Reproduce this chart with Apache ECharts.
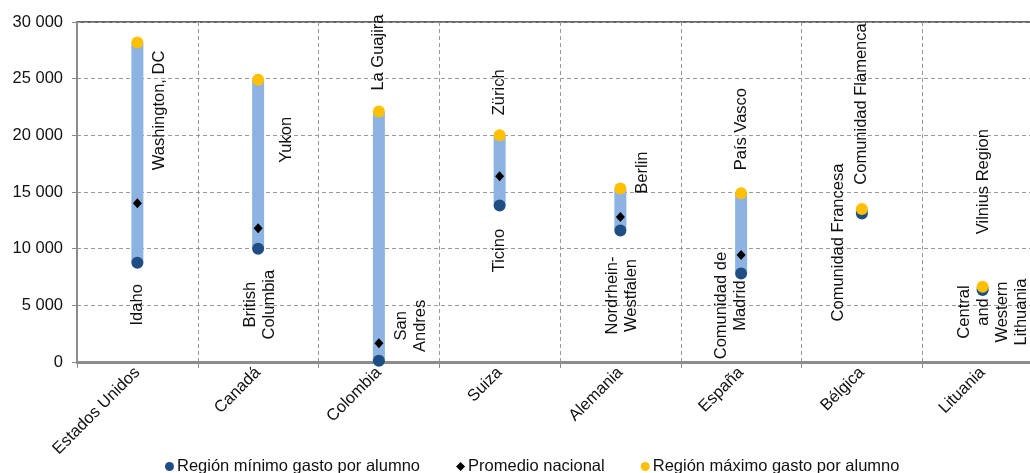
<!DOCTYPE html>
<html>
<head>
<meta charset="utf-8">
<script src="https://cdn.jsdelivr.net/npm/echarts@6/dist/echarts.min.js"></script>
<style>
  html, body { margin: 0; padding: 0; background: #fff; overflow: hidden; }
  #chart { width: 1046px; height: 473px; }
</style>
</head>
<body>
<div id="chart"></div>
<script>
// Gasto por alumno: región mínima, promedio nacional y región máxima por país
const categories = ['Estados Unidos', 'Canadá', 'Colombia', 'Suiza', 'Alemania', 'España', 'Bélgica', 'Lituania'];
const minValues = [8750, 10000, 100, 13800, 11600, 7800, 13100, 6350];
const avgValues = [14000, 11800, 1650, 16400, 12800, 9450, null, null];
const maxValues = [28200, 24900, 22100, 20000, 15300, 14900, 13500, 6650];
const minRegions = ['Idaho', 'British\nColumbia', 'San\nAndres', 'Ticino', 'Nordrhein-\nWestfalen', 'Comunidad de\nMadrid', 'Comunidad Francesa', 'Central\nand\nWestern\nLithuania'];
const maxRegions = ['Washington, DC', 'Yukon', 'La Guajira', 'Zürich', 'Berlin', 'País Vasco', 'Comunidad Flamenca', 'Vilnius Region'];
const yTicks = [0, 5000, 10000, 15000, 20000, 25000, 30000];

// Where each region name sits, in pixels from its dot (centre of the rotated text)
const maxLabelShift = [[22, 68], [28, 60], [0, -59], [0, -43], [22, -16], [0, -64], [0, -105], [1, -105]];
const minLabelShift = [[0, 42], [2, 56], [32, -35], [0, 45], [2, 65], [-10, 32], [-23, 29], [10, 22]];

const FONT = "'Liberation Sans', Arial, sans-serif";
const DOT = 12;

function fmt(v) {
  return String(v).replace(/\B(?=(\d{3})+(?!\d))/g, ' ');
}

function labelled(values, names, shifts) {
  return values.map((v, i) => ({
    value: v,
    label: {
      show: true,
      formatter: names[i],
      position: [shifts[i][0] + DOT / 2, shifts[i][1] + DOT / 2],
      rotate: 90,
      align: 'center',
      verticalAlign: 'middle',
      color: '#111',
      fontFamily: FONT,
      fontSize: 16.5,
      lineHeight: 19
    }
  }));
}

const chart = echarts.init(document.getElementById('chart'), null, { renderer: 'canvas' });

chart.setOption({
  animation: false,
  textStyle: { fontFamily: FONT },
  grid: {
    left: 77, top: 22, width: 966, height: 340,
    show: true, borderColor: '#333', borderWidth: 1.5, backgroundColor: 'transparent'
  },
  legend: {
    data: [
      { name: 'Región mínimo gasto por alumno', icon: 'circle' },
      { name: 'Promedio nacional', icon: 'diamond' },
      { name: 'Región máximo gasto por alumno', icon: 'circle' }
    ],
    left: 160, top: 453,
    itemWidth: 9, itemHeight: 9, itemGap: 36,
    textStyle: { fontFamily: FONT, fontSize: 16.5, color: '#111', padding: [0, 0, 0, -2] }
  },
  xAxis: {
    type: 'category',
    data: categories,
    axisLine: { lineStyle: { color: '#8c8c8c', width: 3 } },
    axisTick: { show: true, length: 6, lineStyle: { color: '#8c8c8c', width: 1 } },
    splitLine: { show: true, lineStyle: { color: '#9a9a9a', type: [4, 3], width: 1 } },
    axisLabel: { rotate: 45, margin: 8, fontSize: 16.5, color: '#111', fontFamily: FONT }
  },
  yAxis: {
    type: 'value',
    min: 0, max: 30000, interval: 5000,
    axisLine: { show: true, lineStyle: { color: '#8c8c8c', width: 2 } },
    axisTick: { show: true, length: 5, lineStyle: { color: '#8c8c8c' } },
    splitLine: { show: true, lineStyle: { color: '#9a9a9a', type: [4, 3], width: 1 } },
    axisLabel: {
      margin: 14, fontSize: 16.5, color: '#111', fontFamily: FONT,
      formatter: v => yTicks.includes(v) ? fmt(v) : ''
    }
  },
  series: [
    {
      name: 'base', type: 'bar', stack: 'rango', barWidth: 12, silent: true,
      itemStyle: { color: 'transparent' },
      data: minValues
    },
    {
      name: 'rango', type: 'bar', stack: 'rango', barWidth: 12, silent: true,
      itemStyle: { color: '#8db3e2' },
      data: maxValues.map((m, i) => m - minValues[i])
    },
    {
      name: 'Región mínimo gasto por alumno', type: 'scatter', symbol: 'circle', symbolSize: DOT,
      itemStyle: { color: '#1f4e85', opacity: 1 }, z: 3,
      data: labelled(minValues, minRegions, minLabelShift)
    },
    {
      name: 'Promedio nacional', type: 'scatter', symbol: 'diamond', symbolSize: [9, 10],
      itemStyle: { color: '#000', opacity: 1 }, z: 4,
      data: avgValues
    },
    {
      name: 'Región máximo gasto por alumno', type: 'scatter', symbol: 'circle', symbolSize: DOT,
      itemStyle: { color: '#ffc000', opacity: 1 }, z: 5,
      data: labelled(maxValues, maxRegions, maxLabelShift)
    }
  ]
});
</script>
</body>
</html>
